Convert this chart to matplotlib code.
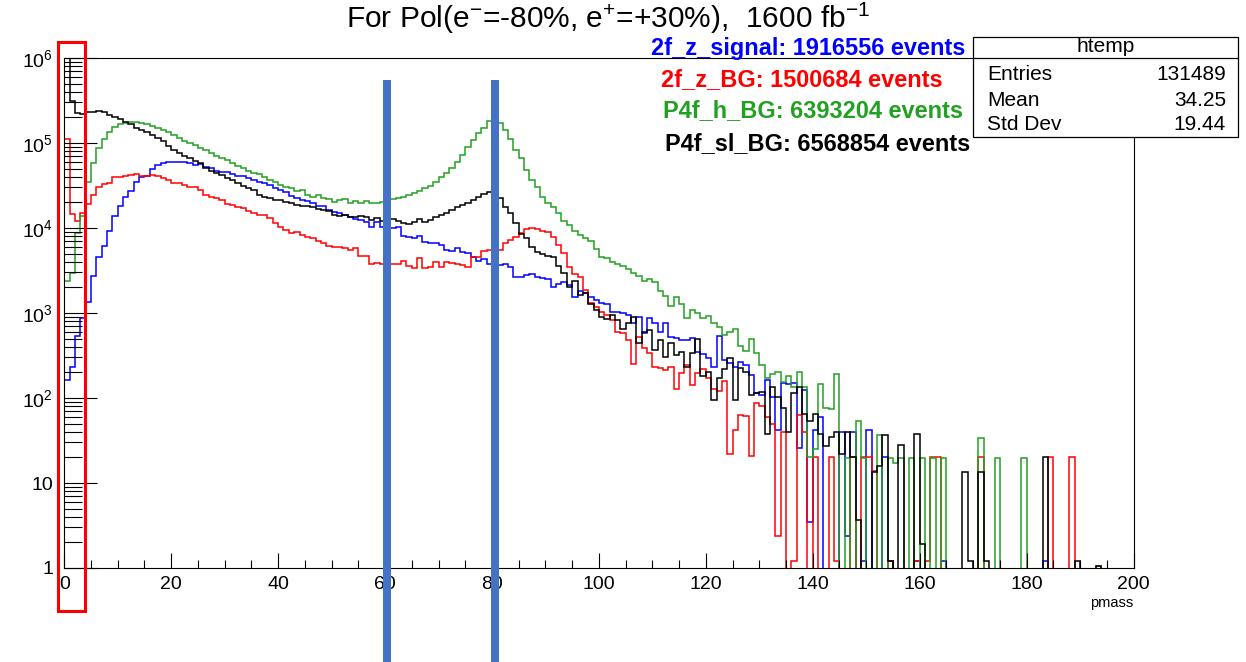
import numpy as np
import matplotlib
matplotlib.use('Agg')
import matplotlib.pyplot as plt
from matplotlib.patches import Rectangle
from matplotlib.lines import Line2D
from matplotlib.ticker import FixedLocator, NullFormatter, MultipleLocator

plt.rcParams['font.family'] = ['Liberation Sans', 'DejaVu Sans']
plt.rcParams['mathtext.fontset'] = 'custom'
plt.rcParams['mathtext.rm'] = 'Liberation Sans'
plt.rcParams['mathtext.it'] = 'Liberation Sans:italic'
plt.rcParams['mathtext.bf'] = 'Liberation Sans:bold'

# ---------------- data ----------------
bin_edges = np.arange(0, 201, 1)   # 200 bins of width 1 in pmass

signal_2f_z = [
    162, 229, 537, 871, 1349, 2692, 4571, 6166, 9120, 13960,
    18200, 23440, 27540, 34670, 40000, 41000, 48980, 54950, 58880, 60260,
    60260, 60000, 59570, 57540, 54950, 56230, 52480, 50120, 47320, 45710,
    45000, 43150, 40740, 40500, 38460, 36730, 35160, 33570, 32060, 29310,
    27990, 26790, 23820, 22340, 21380, 20990, 19860, 18160, 18000, 16290,
    15600, 14890, 14220, 13610, 12650, 12500, 11890, 10380, 11890, 10380,
    10190, 9910, 10190, 8054, 7780, 7700, 8054, 6918, 6730, 6700,
    6310, 5521, 5420, 5768, 5272, 5129, 4519, 4130, 4285, 3802,
    3715, 3664, 3767, 3508, 2673, 2650, 2799, 2877, 2673, 2559,
    2540, 2042, 2193, 2333, 2133, 1556, 1828, 1702, 1556, 1422,
    1300, 1276, 1035, 1030, 991, 946, 755, 906, 575, 865,
    755, 603, 755, 526, 504, 481, 478, 504, 351, 327,
    299, 233, 536, 280, 256, 233, 267, 244, 186, 114,
    108, 163, 104, 42, 149, 148, 150, 25.5, 124, 3.5,
    42, 60, 0, 0, 0, 40, 2.4, 40, 0, 1.2,
    42, 0, 0, 20, 1.2, 0, 0, 0, 0, 1.2,
    0, 0, 0, 0, 1.2, 0, 0, 0, 0, 0,
    0, 0, 0, 0, 0, 0, 0, 0, 0, 0,
    0, 0, 0, 1.2, 0, 0, 0, 0, 0, 0,
    0, 0, 0, 0, 0, 0, 0, 0, 0, 0,
]

bg_2f_z = [
    110400, 14620, 12190, 15140, 19050, 24550, 30200, 33110, 33500, 39810,
    40000, 40740, 41690, 43150, 40740, 40500, 41690, 40740, 38460, 36730,
    33880, 33500, 31990, 30620, 30400, 27990, 24430, 23440, 22390, 21380,
    19050, 18620, 17780, 17060, 16000, 14890, 14220, 14100, 13000, 11350,
    10380, 9484, 8831, 9057, 8279, 7907, 7568, 7096, 6730, 6152,
    6039, 6000, 5768, 5521, 5768, 4688, 4650, 3776, 3846, 3776,
    3760, 3780, 3770, 4130, 3573, 3357, 4406, 3357, 3508, 4018,
    3508, 4018, 3846, 3776, 3673, 3508, 4603, 4580, 5346, 5521,
    5623, 5560, 6592, 7211, 7907, 8810, 9638, 9908, 9638, 9290,
    9057, 7907, 6310, 5035, 3508, 2877, 2630, 1862, 1300, 1164,
    1035, 946, 826, 603, 575, 481, 251, 526, 384, 335,
    233, 223, 213, 233, 126, 195, 244, 142, 195, 219,
    174, 126, 122, 160, 22, 42, 63, 61, 21, 88,
    80, 60, 50, 2.4, 40, 0, 1.2, 63, 40, 0,
    20, 0, 0, 20, 1.2, 0, 0, 20, 0, 20,
    20, 14, 0, 0, 1.2, 0, 0, 0, 0, 1.2,
    0, 1.2, 20, 20, 0, 0, 0, 0, 0, 0,
    0, 20, 0, 0, 0, 0, 0, 0, 0, 0,
    0, 0, 0, 0, 20, 0, 0, 0, 20, 0,
    0, 0, 0, 0, 0, 0, 0, 0, 0, 0,
]

bg_4f_h = [
    2377, 2979, 8810, 13800, 35080, 58880, 86500, 110400, 135800, 152800,
    167100, 173800, 177800, 176000, 173800, 167100, 158500, 148600, 142200, 133400,
    124200, 113500, 106400, 100900, 94620, 88100, 83180, 75860, 70310, 66070,
    63100, 58880, 53700, 50120, 46770, 44670, 42660, 39810, 37150, 34670,
    32060, 30620, 29850, 27540, 27990, 24430, 23390, 24430, 22340, 22200,
    20420, 21380, 21730, 19860, 20990, 19860, 20990, 19860, 19500, 20420,
    20890, 21730, 22340, 23390, 24430, 25590, 27540, 29310, 31190, 35080,
    39450, 44770, 50350, 60390, 72280, 89130, 108600, 130000, 148900, 183200,
    177800, 170600, 142200, 110400, 82790, 66070, 48190, 36730, 30620, 23390,
    19500, 17580, 15140, 12160, 10840, 9268, 8279, 7727, 7079, 5623,
    4603, 4395, 3936, 3802, 3548, 3273, 2951, 2692, 2371, 2512,
    2344, 1820, 1570, 1216, 1549, 1276, 865, 1084, 991, 871,
    933, 759, 676, 550, 603, 646, 407, 355, 490, 335,
    245, 170, 191, 204, 155, 182, 135, 204, 133, 20,
    25, 148, 76, 74, 191, 0, 19.5, 0, 54, 19.5,
    0, 0, 37, 0, 19.5, 17, 19.5, 0, 19.5, 0,
    19.5, 0, 19.5, 0, 19.5, 0, 0, 0, 0, 0,
    0, 34, 0, 0, 19.5, 0, 0, 0, 0, 19.5,
    0, 0, 0, 0, 0, 0, 0, 0, 0, 0,
    0, 0, 0, 1.05, 0, 0, 0, 0, 0, 0,
]

bg_4f_sl = [
    1500000, 309000, 223900, 222000, 229100, 234400, 237700, 229100, 213800, 204200,
    190500, 177800, 166000, 151400, 141300, 133400, 124200, 113500, 104700, 91200,
    83180, 75860, 70790, 66070, 61660, 57540, 50120, 47320, 44670, 41690,
    38460, 36730, 33880, 31620, 29850, 27860, 24490, 23390, 22390, 21380,
    21200, 20420, 19500, 18660, 18160, 18000, 17540, 16600, 16290, 16000,
    14220, 14000, 14220, 13610, 13370, 13870, 13370, 12450, 13000, 12220,
    12450, 12650, 12220, 11560, 11140, 11890, 12650, 11890, 12450, 13610,
    14220, 15170, 16290, 17540, 18660, 19500, 21380, 23390, 25350, 26790,
    25120, 22340, 17820, 15140, 11350, 8492, 7551, 6026, 5260, 4943,
    4677, 4592, 3573, 2924, 2042, 2399, 1629, 1702, 1276, 1084,
    889, 841, 946, 826, 643, 755, 906, 448, 603, 631,
    366, 481, 306, 440, 321, 351, 233, 335, 490, 182,
    204, 95, 170, 217, 292, 95, 223, 204, 108, 114,
    119, 38, 133, 104, 76, 40, 114, 133, 65, 53,
    65, 38, 27, 35, 40, 22, 40, 20, 3.7, 0,
    0, 13.6, 16, 37, 1.2, 0, 28, 0, 0, 38,
    1.9, 0, 0, 0, 0, 0, 0, 0, 13.6, 1.2,
    0, 13.6, 1.2, 0, 0, 0, 0, 0, 0, 0,
    0, 0, 0, 20, 0, 0, 0, 0, 0, 1.2,
    0, 0, 0, 1.05, 0, 0, 0, 0, 0, 0,
]

series_names = ["2f_z_signal", "2f_z_BG", "P4f_h_BG", "P4f_sl_BG"]
series_events = ["1916556", "1500684", "6393204", "6568854"]
series_colors = ["#0000ff", "#ff0000", "#22a022", "#000000"]

x_ticks = [0, 20, 40, 60, 80, 100, 120, 140, 160, 180, 200]
y_ticks = [1, 10, 1e2, 1e3, 1e4, 1e5, 1e6]
y_ticklabels = ["1", "10", r"$10^{2}$", r"$10^{3}$", r"$10^{4}$", r"$10^{5}$", r"$10^{6}$"]

stats_title = "htemp"
stats_rows = [("Entries", "131489"), ("Mean", "34.25"), ("Std Dev", "19.44")]

# ---------------- figure ----------------
W, H = 1246, 662
fig = plt.figure(figsize=(W / 100, H / 100), dpi=100)
fig.patch.set_facecolor('white')

def fx(px):
    return px / W

def fy(py):
    return 1 - py / H

ax_l, ax_r, ax_t, ax_b = 64.3, 1133.5, 58.0, 568.0
ax = fig.add_axes([fx(ax_l), fy(ax_b), fx(ax_r - ax_l), (ax_b - ax_t) / H])
ax.set_yscale('log')

for vals, col in zip([signal_2f_z, bg_2f_z, bg_4f_h, bg_4f_sl], series_colors):
    v = np.asarray(vals, dtype=float)
    v = np.where(v > 0, v, 0.1)
    ax.stairs(v, bin_edges, color=col, lw=1.1, baseline=None)

ax.set_xlim(0, 200)
ax.set_ylim(1, 1e6)

ax.xaxis.set_major_locator(FixedLocator(x_ticks))
ax.xaxis.set_minor_locator(MultipleLocator(5))
ax.set_xticklabels([str(t) for t in x_ticks])
ax.yaxis.set_major_locator(FixedLocator(y_ticks))
ax.set_yticklabels(y_ticklabels)
minors = [m * 10 ** d for d in range(0, 6) for m in range(2, 10)]
ax.yaxis.set_minor_locator(FixedLocator(minors))
ax.yaxis.set_minor_formatter(NullFormatter())

ax.tick_params(axis='x', which='major', direction='in', length=10.8, width=0.8,
               labelsize=14, pad=6, top=False)
ax.tick_params(axis='x', which='minor', direction='in', length=5.8, width=0.8, top=False)
ax.tick_params(axis='y', which='major', direction='in', length=23.8, width=0.8,
               labelsize=14, pad=8, right=False)
ax.tick_params(axis='y', which='minor', direction='in', length=13, width=0.8, right=False)
for s in ax.spines.values():
    s.set_linewidth(0.8)
    s.set_color('black')

# axis title
fig.text(fx(1133), fy(603), "pmass", ha='right', va='center', fontsize=10.5)

# title
fig.text(fx(608), fy(18), r"For Pol(e$^{-}$=-80%, e$^{+}$=+30%),  1600 fb$^{-1}$",
         ha='center', va='center', fontsize=21.5)

# legend texts
leg_x = [651, 661, 663, 665]
leg_y = [49, 80, 111, 144]
for name, ev, col, lx, ly in zip(series_names, series_events, series_colors, leg_x, leg_y):
    fig.text(fx(lx), fy(ly), f"{name}: {ev} events", color=col, fontsize=16.9,
             fontweight='bold', ha='left', va='center', zorder=5)

# stats box
bx0, by0, bx1, by1 = 973, 37, 1238, 137
fig.add_artist(Rectangle((fx(bx0), fy(by1)), fx(bx1 - bx0), (by1 - by0) / H,
                         transform=fig.transFigure, facecolor='white',
                         edgecolor='black', lw=0.9, zorder=10))
fig.add_artist(Line2D([fx(bx0), fx(bx1)], [fy(58), fy(58)], transform=fig.transFigure,
                      color='black', lw=0.9, zorder=11))
fig.text(fx((bx0 + bx1) / 2), fy(47), stats_title, ha='center', va='center',
         fontsize=15, zorder=12)
for i, (k, val) in enumerate(stats_rows):
    yy = 75 + i * 25
    fig.text(fx(987), fy(yy), k, ha='left', va='center', fontsize=15, zorder=12)
    fig.text(fx(1226), fy(yy), val, ha='right', va='center', fontsize=15, zorder=12)

# annotations drawn on top of the plot (marker bars and highlight box)
for x0 in (383, 491):
    fig.add_artist(Rectangle((fx(x0), fy(662)), fx(8), (662 - 80) / H,
                             transform=fig.transFigure, facecolor='#4472C4',
                             edgecolor='none', zorder=20))
fig.add_artist(Rectangle((fx(58), fy(611)), fx(27), (611 - 42) / H,
                         transform=fig.transFigure, facecolor='none',
                         edgecolor='#ff0000', lw=2.2, zorder=21))

fig.savefig('out.png', dpi=100)
